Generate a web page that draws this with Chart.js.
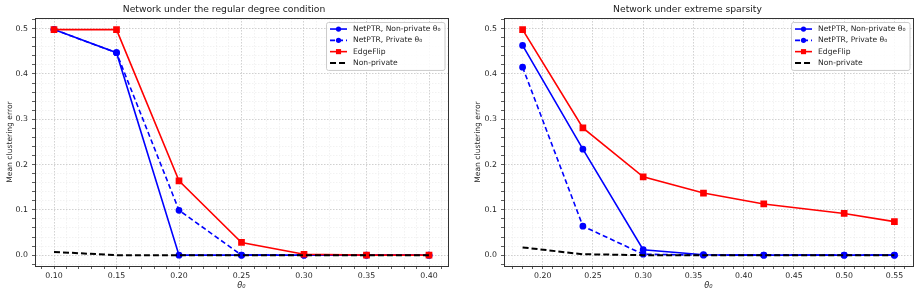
<!DOCTYPE html>
<html>
<head>
<meta charset="utf-8">
<script src="https://cdn.jsdelivr.net/npm/chart.js@4.4.1/dist/chart.umd.min.js"></script>
<style>
  html, body { margin: 0; padding: 0; background: #fff; overflow: hidden; width: 924px; height: 296px; }
  .box { position: absolute; top: 0; height: 296px; }
  #leftBox { left: 0; width: 483px; }
  #rightBox { left: 462px; width: 493px; }
</style>
</head>
<body>
<div class="box" id="leftBox"><canvas id="left"></canvas></div>
<div class="box" id="rightBox"><canvas id="right"></canvas></div>
<script>
// regular degree condition
var thetaRegular = [0.10, 0.15, 0.20, 0.25, 0.30, 0.35, 0.40];
var netptrNonPrivRegular = [0.498, 0.447, 0.0, 0.0, 0.0, 0.0, 0.0];
var netptrPrivRegular = [0.498, 0.447, 0.099, 0.0, 0.0, 0.0, 0.0];
var edgeflipRegular = [0.498, 0.498, 0.164, 0.028, 0.002, 0.0, 0.0];
var nonPrivRegular = [0.007, 0.0, 0.0, 0.0, 0.0, 0.0, 0.0];

// extreme sparsity
var thetaSparse = [0.18, 0.24, 0.30, 0.36, 0.42, 0.50, 0.55];
var netptrNonPrivSparse = [0.463, 0.234, 0.012, 0.001, 0.0, 0.0, 0.0];
var netptrPrivSparse = [0.415, 0.064, 0.002, 0.0, 0.0, 0.0, 0.0];
var edgeflipSparse = [0.498, 0.281, 0.173, 0.137, 0.113, 0.092, 0.074];
var nonPrivSparse = [0.017, 0.002, 0.0, 0.0, 0.0, 0.0, 0.0];

var seriesLabels = ['NetPTR, Non-private θ₀', 'NetPTR, Private θ₀', 'EdgeFlip', 'Non-private'];

Chart.defaults.font.family = '"DejaVu Sans"';
Chart.defaults.color = '#262626';

function isMultiple(v, step) {
  var r = v / step;
  return Math.abs(r - Math.round(r)) < 1e-6;
}

function points(xs, ys) {
  return xs.map(function (x, i) { return { x: x, y: ys[i] }; });
}

function makeDatasets(xs, a, b, c, d) {
  return [
    { label: seriesLabels[0], data: points(xs, a), borderColor: '#0000ff', backgroundColor: '#0000ff',
      borderWidth: 1.6, pointRadius: 2.6, pointStyle: 'circle', order: 3 },
    { label: seriesLabels[1], data: points(xs, b), borderColor: '#0000ff', backgroundColor: '#0000ff',
      borderWidth: 1.6, borderDash: [5, 3], pointRadius: 2.6, pointStyle: 'circle', order: 2 },
    { label: seriesLabels[2], data: points(xs, c), borderColor: '#ff0000', backgroundColor: '#ff0000',
      borderWidth: 1.6, pointRadius: 3.6, pointStyle: 'rect', order: 1 },
    { label: seriesLabels[3], data: points(xs, d), borderColor: '#000000', backgroundColor: '#000000',
      borderWidth: 2, borderDash: [6, 3], pointRadius: 0, order: 0 }
  ];
}

var framePlugin = {
  id: 'frame',
  afterDraw: function (chart) {
    var ctx = chart.ctx, a = chart.chartArea;
    ctx.save();
    ctx.strokeStyle = '#333';
    ctx.lineWidth = 1;
    ctx.strokeRect(Math.round(a.left) + 0.5, Math.round(a.top) + 0.5,
      Math.round(a.right - a.left), Math.round(a.bottom - a.top));
    ctx.restore();
  }
};

var legendPlugin = {
  id: 'insideLegend',
  afterDraw: function (chart) {
    var ctx = chart.ctx, a = chart.chartArea;
    var sets = chart.data.datasets;
    ctx.save();
    ctx.font = '7.6px "DejaVu Sans"';
    var textW = 0;
    sets.forEach(function (ds) { textW = Math.max(textW, ctx.measureText(ds.label).width); });
    var padX = 4, handle = 17, gap = 6, rowH = 11.3;
    var w = padX + handle + gap + textW + padX;
    var h = 7 + rowH * (sets.length - 1) + 7;
    var right = a.right - 3.5, top = a.top + 4;
    var left = right - w;
    ctx.fillStyle = 'rgba(255,255,255,0.85)';
    ctx.strokeStyle = '#cccccc';
    ctx.lineWidth = 1;
    ctx.beginPath();
    ctx.roundRect(left + 0.5, top + 0.5, w, h, 2);
    ctx.fill();
    ctx.stroke();
    sets.forEach(function (ds, i) {
      var y = top + 7 + i * rowH;
      var x0 = left + padX, x1 = x0 + handle;
      ctx.strokeStyle = ds.borderColor;
      ctx.lineWidth = ds.borderWidth;
      ctx.setLineDash(ds.borderDash || []);
      ctx.beginPath();
      ctx.moveTo(x0, y);
      ctx.lineTo(x1, y);
      ctx.stroke();
      ctx.setLineDash([]);
      if (ds.pointRadius > 0) {
        ctx.fillStyle = ds.backgroundColor;
        var cx = (x0 + x1) / 2;
        if (ds.pointStyle === 'rect') {
          var s = ds.pointRadius * Math.SQRT1_2;
          ctx.fillRect(cx - s, y - s, 2 * s, 2 * s);
        } else {
          ctx.beginPath();
          ctx.arc(cx, y, ds.pointRadius, 0, Math.PI * 2);
          ctx.fill();
        }
      }
      ctx.fillStyle = '#262626';
      ctx.textBaseline = 'middle';
      ctx.textAlign = 'left';
      ctx.fillText(ds.label, x1 + gap, y);
    });
    ctx.restore();
  }
};

function makeChart(id, title, sets, xMin, xMax, yAxisWidth, rightPad, yTitlePad) {
  var ctx = document.getElementById(id).getContext('2d');
  return new Chart(ctx, {
    type: 'line',
    data: { datasets: sets },
    options: {
      responsive: true,
      maintainAspectRatio: false,
      animation: false,
      layout: { padding: { left: 0, right: rightPad, top: 0, bottom: 0 } },
      plugins: {
        legend: { display: false },
        tooltip: { enabled: false },
        title: {
          display: true,
          text: title,
          color: '#222',
          font: { size: 9.2, weight: 'normal' },
          padding: { top: 3.6, bottom: 3.4 }
        }
      },
      scales: {
        x: {
          type: 'linear',
          min: xMin,
          max: xMax,
          afterFit: function (scale) { scale.height = 30; },
          border: { color: '#333', width: 1, dash: [1.5, 1.5] },
          grid: {
            color: function (c) {
              return isMultiple(c.tick.value, 0.05) ? 'rgba(185,185,185,0.85)' : 'rgba(228,228,228,0.6)';
            },
            lineWidth: 0.8,
            tickLength: 3,
            tickColor: '#333'
          },
          ticks: {
            stepSize: 0.01,
            includeBounds: false,
            autoSkip: false,
            maxRotation: 0,
            maxTicksLimit: 100,
            padding: 2,
            font: { size: 7.8 },
            callback: function (v) { return isMultiple(v, 0.05) ? v.toFixed(2) : ''; }
          },
          title: {
            display: true,
            text: 'θ₀',
            font: { size: 8.2, style: 'italic' },
            padding: { top: 0, bottom: 5.6 }
          }
        },
        y: {
          min: -0.024,
          max: 0.5235,
          afterFit: function (scale) { scale.width = yAxisWidth; },
          border: { color: '#333', width: 1, dash: [1.5, 1.5] },
          grid: {
            color: function (c) {
              return isMultiple(c.tick.value, 0.1) ? 'rgba(185,185,185,0.85)' : 'rgba(228,228,228,0.6)';
            },
            lineWidth: 0.8,
            tickLength: 3,
            tickColor: '#333'
          },
          ticks: {
            stepSize: 0.02,
            includeBounds: false,
            autoSkip: false,
            maxTicksLimit: 100,
            padding: 4,
            font: { size: 7.8 },
            callback: function (v) { return isMultiple(v, 0.1) ? v.toFixed(1) : ''; }
          },
          title: {
            display: true,
            text: 'Mean clustering error',
            font: { size: 7.6 },
            padding: { top: yTitlePad, bottom: 0 }
          }
        }
      }
    },
    plugins: [framePlugin, legendPlugin]
  });
}

makeChart('left', 'Network under the regular degree condition',
  makeDatasets(thetaRegular, netptrNonPrivRegular, netptrPrivRegular, edgeflipRegular, nonPrivRegular),
  0.0848, 0.4152, 35, 35, 5.4);

makeChart('right', 'Network under extreme sparsity',
  makeDatasets(thetaSparse, netptrNonPrivSparse, netptrPrivSparse, edgeflipSparse, nonPrivSparse),
  0.1615, 0.5685, 42, 42, 11.4);
</script>
</body>
</html>
